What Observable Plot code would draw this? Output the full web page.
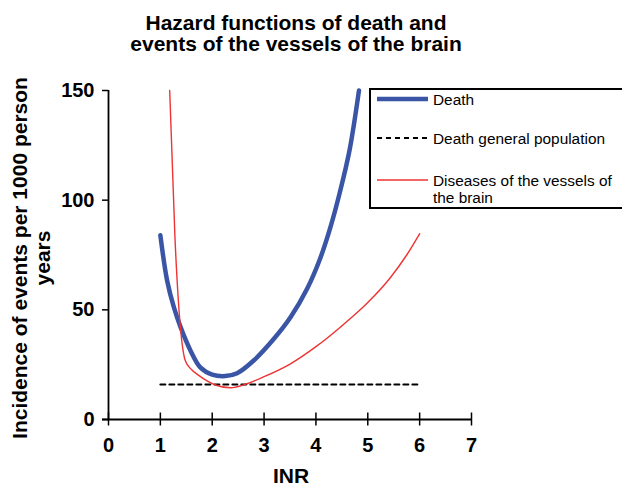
<!DOCTYPE html>
<html>
<head>
<meta charset="utf-8">
<script src="https://cdn.jsdelivr.net/npm/d3@7"></script>
<script src="https://cdn.jsdelivr.net/npm/@observablehq/plot@0.6"></script>
<style>
  body { margin: 0; background: #fff; font-family: "Liberation Sans", Arial, Helvetica, sans-serif; color: #000; }
  #wrap { position: relative; width: 622px; height: 486px; overflow: hidden; background: #fff; }
  #chart { position: absolute; left: 0; top: 0; }
  .title { position: absolute; left: 0; top: 11.6px; width: 592px; text-align: center; font-weight: bold; font-size: 21px; line-height: 21.5px; }
  .ylabel { position: absolute; left: -189px; top: 235px; width: 440px; height: 46px; text-align: center; font-weight: bold; font-size: 21px; line-height: 23px; transform: rotate(-90deg); white-space: nowrap; }
  .xlabel { position: absolute; left: 241px; top: 465px; width: 100px; text-align: center; font-weight: bold; font-size: 21px; line-height: 21px; }
  .legend { position: absolute; left: 369px; top: 88px; width: 270px; height: 121px; box-sizing: border-box; border: 2px solid #000; background: #fff; }
  .legend svg { position: absolute; left: 6px; }
  .legend .lab { position: absolute; left: 62px; font-size: 15.4px; line-height: 17px; white-space: nowrap; }
</style>
</head>
<body>
<div id="wrap">
  <div id="chart"></div>
  <div class="title">Hazard functions of death and<br>events of the vessels of the brain</div>
  <div class="ylabel">Incidence of events per 1000 person<br>years</div>
  <div class="xlabel">INR</div>
  <div class="legend" id="legend"></div>
</div>
<script>
// Tick values
const xTicks = [0, 1, 2, 3, 4, 5, 6, 7];
const yTicks = [0, 50, 100, 150];

// Series: Death
const deathX = [1.0, 1.13, 1.26, 1.39, 1.58, 1.77, 2.0, 2.25, 2.48, 2.8, 3.19, 3.51, 3.83, 4.08, 4.28, 4.47, 4.65, 4.83];
const deathY = [84, 63.4, 51.2, 42.1, 31.5, 23.8, 20.5, 19.8, 21.1, 26.9, 36.8, 46.6, 59.6, 73.3, 87.7, 104.4, 123, 150];

// Series: Death general population
const popX = [1, 6];
const popY = [16, 16];

// Series: Diseases of the vessels of the brain
const brainX = [1.18, 1.28, 1.48, 1.6, 1.74, 1.9, 2.09, 2.35, 2.67, 3.0, 3.51, 4.0, 4.47, 5.0, 5.43, 5.75, 6.0];
const brainY = [150, 83.9, 26.9, 22.8, 20.1, 17.6, 15.5, 14.5, 16.3, 19.5, 25.4, 33.2, 42.1, 53.3, 64.5, 75, 84.7];

// Legend
const seriesNames = ["Death", "Death general population", "Diseases of the vessels of\nthe brain"];
const seriesColors = ["#3a55a5", "#000000", "#ee3333"];

const zip = (xs, ys) => xs.map((x, i) => ({x, y: ys[i]}));
const deathData = zip(deathX, deathY);
const popData = zip(popX, popY);
const brainData = zip(brainX, brainY);

const chart = Plot.plot({
  width: 622,
  height: 486,
  marginTop: 90,
  marginBottom: 67,
  marginLeft: 108,
  marginRight: 151,
  x: {domain: [0, 7]},
  y: {domain: [0, 150]},
  style: {fontFamily: '"Liberation Sans", Arial, Helvetica, sans-serif', fontSize: "20px", fontWeight: "bold", color: "#000", background: "transparent"},
  marks: [
    Plot.axisY({ticks: yTicks, tickFormat: d => String(d), tickSize: 6, tickPadding: 8, label: null, strokeWidth: 1.5}),
    Plot.axisX({ticks: xTicks, tickFormat: d => String(d), tickSize: 13, dy: -6.5, tickPadding: 11.5, label: null, strokeWidth: 1.5}),
    Plot.ruleX([0], {strokeWidth: 1.8}),
    Plot.ruleY([0], {insetLeft: -6, strokeWidth: 1.8}),
    Plot.line(popData, {x: "x", y: "y", stroke: seriesColors[1], strokeWidth: 2, strokeDasharray: "5,4"}),
    Plot.line(deathData, {x: "x", y: "y", stroke: seriesColors[0], strokeWidth: 4.5, curve: "catmull-rom"}),
    Plot.line(brainData, {x: "x", y: "y", stroke: seriesColors[2], strokeWidth: 1.4, curve: "monotone-x"})
  ]
});
document.getElementById("chart").appendChild(chart);

// Legend (HTML overlay)
const legend = document.getElementById("legend");
const itemY = [9, 48, 90];
const swatchW = [4.5, 2, 1.4];
const swatchDash = [null, "5,4", null];
seriesNames.forEach((name, i) => {
  const svgNS = "http://www.w3.org/2000/svg";
  const s = document.createElementNS(svgNS, "svg");
  s.setAttribute("width", "52");
  s.setAttribute("height", "10");
  s.style.top = (itemY[i] - 5) + "px";
  const ln = document.createElementNS(svgNS, "line");
  ln.setAttribute("x1", "0"); ln.setAttribute("x2", "51");
  ln.setAttribute("y1", "5"); ln.setAttribute("y2", "5");
  ln.setAttribute("stroke", seriesColors[i]);
  ln.setAttribute("stroke-width", swatchW[i]);
  if (swatchDash[i]) ln.setAttribute("stroke-dasharray", swatchDash[i]);
  s.appendChild(ln);
  legend.appendChild(s);
  const lab = document.createElement("div");
  lab.className = "lab";
  lab.style.top = (itemY[i] - 8.5) + "px";
  lab.innerHTML = name.replace("\n", "<br>");
  legend.appendChild(lab);
});
</script>
</body>
</html>
